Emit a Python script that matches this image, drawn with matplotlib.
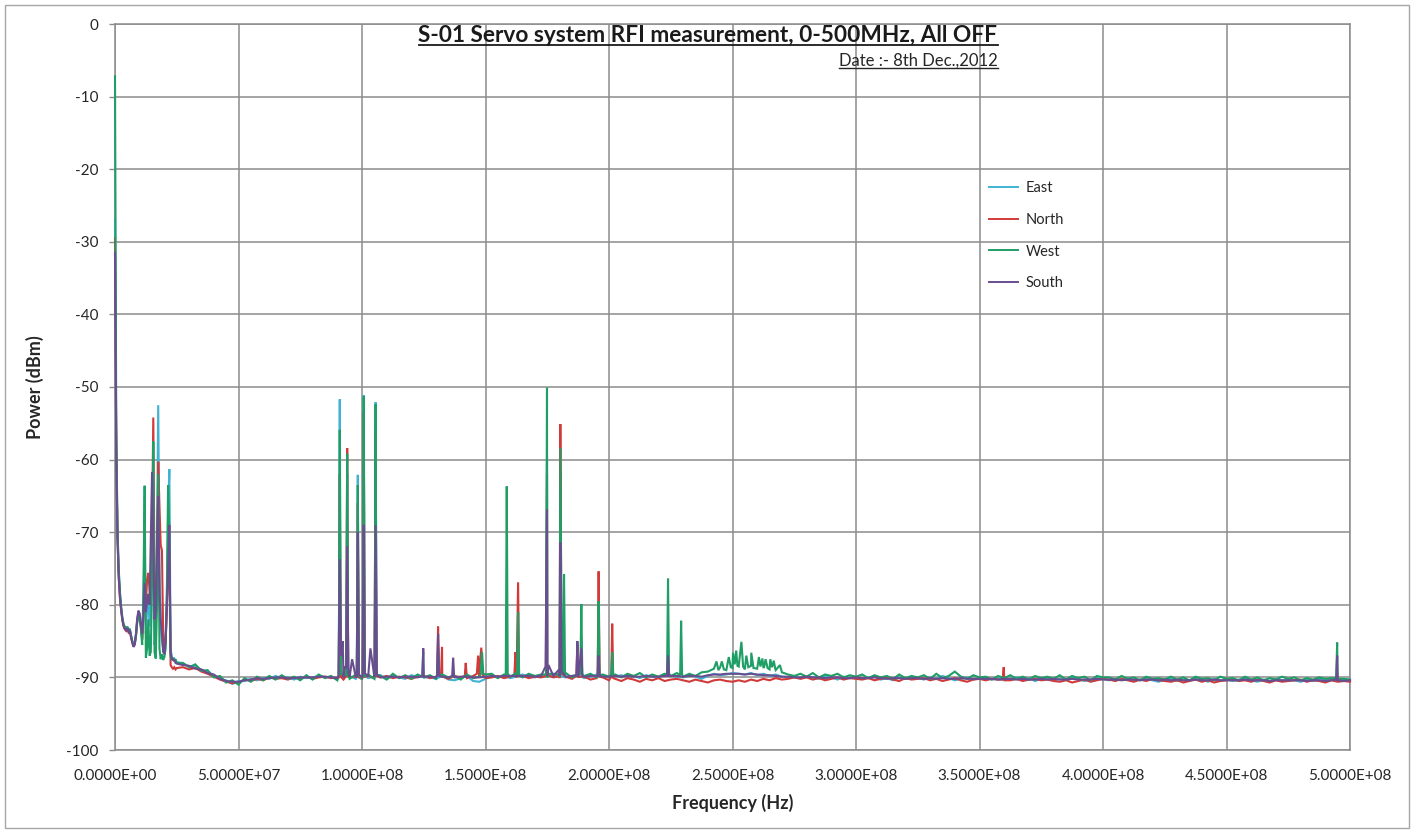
import numpy as np
import matplotlib
matplotlib.use("Agg")
import matplotlib.pyplot as plt
from matplotlib.ticker import FuncFormatter, MultipleLocator
from matplotlib.lines import Line2D
from matplotlib.patches import Rectangle

plt.rcParams["font.family"] = ["Lato", "DejaVu Sans"]

# ---------------------------------------------------------------------------
# Frequency grids (MHz): fine sweep below 25 MHz, coarser floor sweep above
# ---------------------------------------------------------------------------
LOW_MHZ = np.arange(0.0, 25.01, 0.5)      # 51 samples
MID_MHZ = np.arange(27.5, 500.01, 2.5)    # 190 samples

SERIES = ["East", "North", "West", "South"]
COLORS = {"East": "#3FB3D3", "North": "#D23A3A", "West": "#1F9E66", "South": "#684E8F"}

# ---------------------------------------------------------------------------
# East antenna (dBm)
# ---------------------------------------------------------------------------
EAST_LOW = [
    -27.0, -57.0, -70.0, -75.5, -78.5, -80.5, -82.0, -82.8, -83.2, -83.4,
    -83.1, -83.6, -83.4, -84.3, -85.0, -85.5, -85.2, -84.0, -82.0, -81.2,
    -81.5, -82.8, -84.6, -80.0, -70.5, -84.0, -80.5, -79.0, -83.0, -78.0,
    -68.0, -78.0, -85.5, -84.0, -70.0, -52.5, -74.0, -83.0, -85.0, -86.0,
    -85.8, -84.0, -79.0, -68.0, -61.3, -86.0, -87.2, -87.5, -87.4, -87.8,
    -87.9,
]
EAST_FLOOR = [
    -88.1, -88.5, -88.4, -89.0, -89.2, -89.8, -90.2, -90.4, -90.9, -90.5,
    -90.5, -90.2, -90.4, -90.1, -90.2, -89.8, -90.1, -90.0, -90.3, -89.9,
    -90.1, -90.0, -89.8, -90.0, -89.9, -90.3, -90.1, -89.8, -90.2, -89.9,
    -90.1, -89.9, -89.7, -90.2, -89.8, -90.0, -90.2, -89.7, -89.9, -90.1,
    -90.0, -90.2, -89.8, -90.3, -90.4, -90.1, -89.8, -90.5, -90.6, -90.2,
    -89.9, -90.0, -89.7, -90.1, -89.9, -89.6, -89.9, -90.0, -89.7, -89.9,
    -89.8, -89.6, -90.0, -89.8, -89.7, -90.1, -89.9, -89.6, -89.8, -90.0,
    -89.9, -89.7, -90.0, -89.8, -90.1, -89.7, -89.9, -90.0, -89.6, -89.8,
    -89.9, -90.0, -89.7, -89.9, -90.2, -89.8, -89.5, -89.7, -89.6, -89.4,
    -89.5, -89.6, -89.4, -89.7, -89.5, -89.8, -89.6, -89.9, -90.0, -89.8,
    -90.1, -89.9, -90.0, -90.2, -89.8, -90.0, -90.3, -89.9, -90.1, -90.0,
    -90.2, -90.0, -89.9, -90.3, -90.1, -90.4, -90.0, -90.2, -89.9, -90.1,
    -90.3, -90.0, -90.2, -89.8, -90.1, -90.4, -90.2, -90.0, -90.3, -90.1,
    -90.0, -90.3, -90.1, -90.4, -90.2, -90.0, -90.3, -90.1, -90.5, -90.2,
    -90.1, -90.4, -90.2, -90.3, -90.0, -90.2, -90.5, -90.3, -90.1, -90.2,
    -90.4, -90.2, -90.3, -90.1, -90.5, -90.3, -90.2, -90.4, -90.6, -90.3,
    -90.2, -90.5, -90.3, -90.4, -90.1, -90.3, -90.6, -90.2, -90.4, -90.3,
    -90.5, -90.3, -90.2, -90.4, -90.6, -90.3, -90.5, -90.2, -90.4, -90.3,
    -90.4, -90.6, -90.3, -90.5, -90.2, -90.4, -90.3, -90.5, -90.4, -90.3,
]
EAST_SPIKES = [
    (90.6, -89.8), (91.0, -51.7), (91.4, -89.6),
    (93.6, -89.7), (94.0, -62.0), (94.4, -89.8),
    (97.9, -89.8), (98.3, -62.1), (98.7, -89.7),
    (100.3, -89.7), (100.7, -51.1), (101.1, -89.8),
    (105.1, -89.8), (105.5, -52.1), (105.9, -89.7),
    (124.4, -89.9), (124.8, -86.5), (125.2, -90.0),
    (174.5, -89.8), (174.9, -60.0), (175.3, -89.7),
    (179.9, -89.8), (180.3, -62.0), (180.7, -89.9),
    (494.4, -90.3), (494.8, -89.4), (495.3, -90.4),
]

# ---------------------------------------------------------------------------
# North antenna (dBm)
# ---------------------------------------------------------------------------
NORTH_LOW = [
    -29.5, -58.0, -70.5, -76.0, -79.0, -80.8, -82.2, -83.0, -83.4, -83.6,
    -83.3, -83.8, -83.6, -84.5, -85.2, -85.7, -85.4, -84.3, -82.3, -81.5,
    -81.8, -83.0, -84.8, -82.0, -76.0, -80.0, -76.5, -75.6, -78.0, -80.0,
    -70.0, -54.2, -76.0, -84.0, -75.0, -60.3, -66.5, -71.8, -72.5, -84.0,
    -86.0, -85.0, -80.0, -76.0, -74.0, -88.3, -88.6, -88.8, -88.6, -88.9,
    -88.7,
]
NORTH_FLOOR = [
    -88.6, -88.9, -88.7, -89.2, -89.5, -89.9, -90.3, -90.6, -90.8, -90.7,
    -90.3, -90.5, -90.2, -90.4, -90.0, -90.2, -90.1, -90.3, -90.0, -90.2,
    -89.9, -90.2, -90.0, -89.9, -90.1, -90.0, -90.3, -90.0, -89.9, -90.2,
    -89.8, -90.1, -90.0, -89.8, -90.1, -89.9, -90.0, -90.2, -89.9, -89.8,
    -90.1, -89.9, -90.0, -90.2, -89.8, -90.0, -90.1, -89.8, -90.0, -90.1,
    -90.0, -89.8, -90.1, -89.9, -90.0, -89.8, -90.1, -89.9, -90.0, -89.9,
    -90.0, -90.1, -89.9, -90.2, -90.0, -89.9, -90.3, -90.1, -90.0, -90.4,
    -90.2, -90.5, -90.1, -90.3, -90.6, -90.2, -90.4, -90.1, -90.5, -90.3,
    -90.2, -90.4, -90.6, -90.3, -90.5, -90.7, -90.4, -90.3, -90.5, -90.6,
    -90.4, -90.6, -90.3, -90.5, -90.2, -90.4, -90.1, -90.3, -90.2, -90.0,
    -90.2, -90.0, -90.3, -90.1, -90.4, -90.2, -90.0, -90.3, -90.1, -90.2,
    -90.3, -90.1, -90.4, -90.2, -90.0, -90.3, -90.5, -90.1, -90.3, -90.2,
    -90.1, -90.4, -90.2, -90.5, -90.3, -90.1, -90.4, -90.6, -90.3, -90.2,
    -90.4, -90.2, -90.3, -90.1, -90.4, -90.2, -90.5, -90.3, -90.2, -90.4,
    -90.3, -90.5, -90.6, -90.4, -90.7, -90.5, -90.3, -90.6, -90.4, -90.2,
    -90.3, -90.5, -90.2, -90.4, -90.6, -90.3, -90.5, -90.2, -90.4, -90.5,
    -90.6, -90.4, -90.7, -90.5, -90.3, -90.6, -90.4, -90.7, -90.5, -90.4,
    -90.3, -90.5, -90.4, -90.6, -90.3, -90.5, -90.7, -90.4, -90.6, -90.5,
    -90.4, -90.3, -90.6, -90.4, -90.5, -90.7, -90.4, -90.6, -90.5, -90.6,
]
NORTH_SPIKES = [
    (90.6, -90.0), (91.0, -62.0), (91.4, -89.9),
    (93.6, -89.8), (94.0, -58.4), (94.4, -89.9),
    (97.9, -89.9), (98.3, -66.0), (98.7, -90.0),
    (100.3, -89.8), (100.7, -53.5), (101.1, -89.9),
    (105.1, -89.9), (105.5, -56.0), (105.9, -89.8),
    (130.4, -89.8), (130.8, -83.0), (131.2, -89.6),
    (132.0, -89.7), (132.4, -85.8), (132.8, -89.9),
    (141.6, -89.8), (142.0, -88.0), (142.4, -89.9),
    (146.5, -89.5), (147.0, -87.0), (147.6, -88.5), (148.3, -85.9), (148.8, -89.6),
    (161.7, -89.7), (162.1, -86.5), (162.6, -89.5), (163.2, -76.9), (163.6, -89.8),
    (174.5, -89.8), (174.9, -62.0), (175.3, -89.7),
    (179.9, -89.8), (180.3, -55.1), (180.8, -89.5),
    (186.8, -89.8), (187.2, -85.5), (187.6, -89.9),
    (195.4, -89.8), (195.8, -75.4), (196.2, -89.9),
    (200.9, -89.9), (201.3, -82.6), (201.7, -90.1),
    (359.4, -90.3), (359.8, -88.6), (360.3, -90.4),
]

# ---------------------------------------------------------------------------
# West antenna (dBm)
# ---------------------------------------------------------------------------
WEST_LOW = [
    -7.2, -55.0, -69.5, -75.0, -78.2, -80.3, -81.8, -82.7, -83.0, -83.3,
    -83.0, -83.5, -83.3, -84.2, -85.0, -85.6, -85.3, -84.2, -82.4, -81.6,
    -82.0, -83.4, -85.5, -78.0, -63.6, -87.3, -86.0, -82.0, -87.0, -86.5,
    -76.0, -57.5, -86.5, -87.4, -80.0, -62.0, -86.0, -87.5, -86.8, -87.6,
    -87.2, -86.0, -78.0, -63.5, -70.0, -87.0, -87.6, -87.3, -87.8, -87.5,
    -88.0,
]
WEST_FLOOR = [
    -88.0, -88.6, -88.2, -89.1, -89.0, -90.0, -89.8, -90.7, -90.4, -91.0,
    -90.1, -90.6, -89.9, -90.4, -89.8, -90.3, -89.7, -90.2, -89.9, -90.4,
    -89.7, -90.3, -89.6, -90.1, -89.8, -90.4, -89.7, -90.2, -89.6, -90.3,
    -89.6, -90.2, -89.8, -90.3, -89.5, -90.1, -89.7, -90.2, -89.6, -90.0,
    -89.7, -90.2, -89.6, -90.0, -89.8, -90.3, -89.6, -90.1, -89.9, -89.6,
    -89.5, -90.1, -89.6, -89.9, -89.4, -90.0, -89.5, -89.8, -89.6, -90.0,
    -89.5, -89.9, -89.4, -90.0, -89.6, -89.8, -89.5, -90.0, -89.6, -89.9,
    -89.6, -90.0, -89.5, -89.8, -89.4, -90.0, -89.6, -89.9, -89.5, -89.8,
    -89.4, -89.9, -89.5, -89.8, -89.3, -89.2, -88.8, -88.6, -89.0, -88.7,
    -88.5, -88.9, -88.4, -88.8, -88.6, -88.9, -89.0, -89.3, -89.6, -89.8,
    -89.5, -89.9, -89.4, -90.0, -89.6, -89.8, -89.5, -90.0, -89.7, -89.9,
    -89.6, -90.1, -89.7, -90.0, -89.8, -90.2, -89.6, -90.1, -89.8, -90.0,
    -89.7, -90.2, -89.5, -90.1, -89.8, -89.2, -89.9, -90.2, -89.7, -90.0,
    -89.9, -90.3, -89.8, -90.1, -89.7, -90.2, -89.9, -90.3, -89.8, -90.1,
    -89.9, -90.2, -89.7, -90.3, -89.8, -90.1, -89.9, -90.4, -89.8, -90.0,
    -90.0, -90.3, -89.8, -90.2, -90.0, -90.4, -89.9, -90.2, -90.1, -90.3,
    -89.9, -90.3, -90.0, -90.4, -89.9, -90.2, -90.1, -90.4, -89.9, -90.2,
    -90.1, -90.4, -89.9, -90.3, -90.0, -90.4, -90.1, -90.3, -89.9, -90.2,
    -90.0, -90.4, -90.1, -90.3, -90.0, -90.2, -90.1, -90.4, -90.2, -90.3,
]
WEST_SPIKES = [
    (90.6, -89.6), (91.0, -55.9), (91.4, -89.5),
    (93.6, -89.7), (94.0, -59.2), (94.4, -89.6),
    (97.9, -89.8), (98.3, -63.5), (98.7, -89.7),
    (100.3, -89.6), (100.7, -51.3), (101.1, -89.8),
    (105.1, -89.7), (105.5, -52.4), (105.9, -89.6),
    (130.4, -89.6), (130.8, -86.0), (131.2, -89.7),
    (148.0, -89.6), (148.6, -86.5), (149.1, -89.5),
    (158.2, -89.6), (158.6, -63.7), (159.0, -89.5),
    (162.8, -89.6), (163.2, -81.0), (163.6, -89.7),
    (174.5, -89.6), (174.9, -50.1), (175.3, -89.5),
    (179.9, -89.6), (180.3, -58.4), (180.9, -89.4),
    (181.4, -89.5), (181.8, -75.8), (182.2, -89.6),
    (188.4, -89.5), (188.8, -79.9), (189.2, -89.6),
    (195.4, -89.6), (195.8, -79.5), (196.2, -89.7),
    (200.9, -89.6), (201.3, -86.5), (201.7, -89.8),
    (223.5, -89.6), (223.9, -76.4), (224.3, -89.5),
    (228.8, -89.7), (229.2, -82.2), (229.6, -89.6),
    (243.5, -87.8), (244.3, -89.0), (245.7, -87.8), (246.5, -88.9),
    (248.5, -87.2), (249.3, -88.6), (250.2, -86.6), (250.9, -88.2),
    (251.5, -86.3), (252.0, -88.4), (253.6, -85.1), (254.3, -88.5),
    (255.6, -87.0), (256.4, -88.6), (257.6, -86.6), (258.5, -88.7),
    (260.7, -87.2), (261.3, -88.5), (262.1, -87.4), (262.8, -88.6),
    (263.4, -87.5), (264.2, -88.7), (265.3, -87.5), (266.0, -88.6),
    (266.7, -87.7), (267.3, -88.8), (269.2, -88.3),
    (494.4, -90.1), (494.8, -85.2), (495.3, -90.2),
]

# ---------------------------------------------------------------------------
# South antenna (dBm)
# ---------------------------------------------------------------------------
SOUTH_LOW = [
    -31.5, -59.0, -70.8, -76.2, -79.0, -80.7, -82.0, -82.9, -83.3, -83.5,
    -83.2, -83.7, -83.5, -84.4, -85.2, -85.8, -85.5, -84.0, -81.8, -80.8,
    -81.2, -82.6, -84.0, -81.5, -77.0, -81.0, -79.5, -78.5, -80.0, -71.0,
    -61.7, -72.0, -82.0, -81.0, -72.0, -65.0, -78.0, -82.0, -84.0, -86.5,
    -86.8, -85.0, -80.5, -75.0, -69.0, -86.5, -87.4, -87.6, -87.6, -88.0,
    -88.1,
]
SOUTH_FLOOR = [
    -88.3, -88.4, -88.8, -88.9, -89.4, -89.6, -90.2, -90.5, -90.6, -90.6,
    -90.4, -90.3, -90.1, -90.2, -90.1, -90.0, -90.0, -90.1, -90.1, -90.0,
    -90.0, -90.0, -89.9, -89.9, -90.0, -90.1, -90.0, -89.9, -90.0, -90.0,
    -89.9, -89.9, -90.0, -89.9, -89.9, -90.0, -89.9, -89.9, -90.0, -89.9,
    -89.9, -90.0, -89.9, -90.0, -90.0, -89.9, -89.9, -90.0, -90.0, -89.9,
    -89.8, -89.9, -89.8, -89.8, -89.8, -89.8, -89.8, -89.9, -89.8, -89.8,
    -89.8, -89.8, -89.9, -89.8, -89.8, -89.9, -89.8, -89.8, -89.9, -89.9,
    -89.8, -89.9, -89.8, -89.9, -89.9, -89.8, -89.9, -89.9, -89.8, -89.8,
    -89.8, -89.9, -89.8, -89.8, -89.9, -89.7, -89.6, -89.6, -89.5, -89.5,
    -89.5, -89.6, -89.5, -89.6, -89.7, -89.7, -89.8, -89.9, -89.9, -90.0,
    -90.0, -89.9, -90.0, -90.0, -90.1, -90.0, -90.0, -90.1, -90.1, -90.0,
    -90.1, -90.1, -90.0, -90.1, -90.2, -90.1, -90.1, -90.2, -90.1, -90.1,
    -90.2, -90.1, -90.2, -90.1, -90.2, -90.2, -90.1, -90.2, -90.2, -90.2,
    -90.2, -90.2, -90.3, -90.2, -90.2, -90.3, -90.2, -90.3, -90.3, -90.2,
    -90.3, -90.2, -90.3, -90.3, -90.2, -90.3, -90.3, -90.3, -90.2, -90.3,
    -90.3, -90.3, -90.4, -90.3, -90.3, -90.4, -90.3, -90.3, -90.4, -90.3,
    -90.4, -90.3, -90.4, -90.4, -90.3, -90.4, -90.4, -90.3, -90.4, -90.4,
    -90.4, -90.4, -90.3, -90.4, -90.4, -90.4, -90.5, -90.4, -90.4, -90.4,
    -90.4, -90.4, -90.5, -90.4, -90.4, -90.5, -90.4, -90.4, -90.5, -90.4,
]
SOUTH_SPIKES = [
    (90.5, -89.8), (91.0, -73.7), (91.5, -87.0), (92.2, -85.0), (92.8, -88.5),
    (93.6, -88.8), (94.0, -71.9), (94.5, -89.5), (96.0, -87.5),
    (97.9, -89.7), (98.3, -70.0), (98.7, -89.6),
    (100.3, -89.6), (100.7, -69.0), (101.1, -89.4), (103.4, -86.0),
    (105.1, -89.4), (105.5, -69.0), (106.0, -89.6),
    (124.4, -89.8), (124.8, -86.0), (125.3, -89.9),
    (130.4, -89.7), (130.8, -84.0), (131.2, -89.8),
    (136.5, -89.8), (136.9, -87.3), (137.3, -89.9),
    (174.3, -88.5), (174.9, -66.9), (175.5, -88.3),
    (179.8, -88.9), (180.3, -71.4), (180.8, -89.2),
    (186.8, -89.7), (187.2, -85.0), (187.6, -89.8), (188.8, -86.0), (189.2, -89.8),
    (195.4, -89.8), (195.8, -87.0), (196.2, -89.8),
    (223.5, -89.8), (223.9, -87.0), (224.3, -89.8),
    (494.4, -90.3), (494.8, -87.0), (495.3, -90.4),
]

TRACES = {
    "East": (EAST_LOW, EAST_FLOOR, EAST_SPIKES),
    "North": (NORTH_LOW, NORTH_FLOOR, NORTH_SPIKES),
    "West": (WEST_LOW, WEST_FLOOR, WEST_SPIKES),
    "South": (SOUTH_LOW, SOUTH_FLOOR, SOUTH_SPIKES),
}


def build_trace(low, floor, spikes):
    """Merge the low sweep, floor sweep and spike readings into one trace (Hz, dBm)."""
    assert len(low) == len(LOW_MHZ) and len(floor) == len(MID_MHZ)
    f = np.concatenate([LOW_MHZ, MID_MHZ, [s[0] for s in spikes]])
    p = np.concatenate([low, floor, [s[1] for s in spikes]])
    order = np.argsort(f, kind="stable")
    return f[order] * 1e6, p[order]


W, H = 1415, 832
fig = plt.figure(figsize=(W / 100, H / 100), dpi=100)
fig.patch.set_facecolor("white")

# Chart-area border
fig.add_artist(Rectangle((5 / W, 4 / H), 1404 / W, 823 / H, transform=fig.transFigure,
                         fill=False, edgecolor="#A6A6A6", linewidth=1.0))

ax = fig.add_axes([115 / W, 1 - 750 / H, (1350 - 115) / W, (750 - 24) / H])
GRID = "#8C8C8C"
TEXT = "#262626"

for name in SERIES:
    x, y = build_trace(*TRACES[name])
    ax.plot(x, y, color=COLORS[name], linewidth=1.5, zorder=3, clip_on=False,
            solid_joinstyle="miter")

ax.set_xlim(0, 5e8)
ax.set_ylim(-100, 0)
ax.xaxis.set_major_locator(MultipleLocator(5e7))
ax.yaxis.set_major_locator(MultipleLocator(10))
ax.xaxis.set_major_formatter(FuncFormatter(lambda v, _: f"{v:.4E}"))
ax.yaxis.set_major_formatter(FuncFormatter(lambda v, _: f"{v:.0f}"))
ax.grid(True, color=GRID, linewidth=1.1)
ax.set_axisbelow(True)
for sp in ax.spines.values():
    sp.set_color(GRID)
    sp.set_linewidth(1.1)
ax.tick_params(axis="y", direction="out", length=4, width=1.0, color=GRID,
               pad=8, labelsize=11, labelcolor=TEXT)
ax.tick_params(axis="x", length=0, pad=14, labelsize=11, labelcolor=TEXT)

ax.set_xlabel("Frequency (Hz)", fontsize=13, fontweight="bold", color=TEXT, labelpad=7.5)
ax.set_ylabel("Power (dBm)", fontsize=13, fontweight="bold", color=TEXT, labelpad=16)

# Legend without a frame inside the plot area
handles = [Line2D([], [], color=COLORS[n], linewidth=1.4) for n in SERIES]
fig.legend(handles, SERIES, loc="upper left", bbox_to_anchor=(989 / W, 1 - 181 / H),
           frameon=False, fontsize=10.5, handlelength=2.0, handletextpad=0.5,
           labelspacing=1.22, borderpad=0, borderaxespad=0, labelcolor=TEXT)

title = fig.text(708 / W, 1 - 36 / H, "S-01 Servo system RFI measurement, 0-500MHz, All OFF",
                 ha="center", va="center", fontsize=16.3, fontweight="bold", color="#1A1A1A")
date = fig.text(998 / W, 1 - 61 / H, "Date :- 8th Dec.,2012",
                ha="right", va="center", fontsize=12, color=TEXT)

# Underline both heading texts
fig.canvas.draw()
renderer = fig.canvas.get_renderer()
for txt, lw in ((title, 1.3), (date, 1.0)):
    bb = txt.get_window_extent(renderer)
    y0 = (bb.y0 + 1.5) / H
    fig.add_artist(Line2D([bb.x0 / W, bb.x1 / W], [y0, y0], transform=fig.transFigure,
                          color=txt.get_color(), linewidth=lw))

fig.savefig("out.png", dpi=100, facecolor="white")
